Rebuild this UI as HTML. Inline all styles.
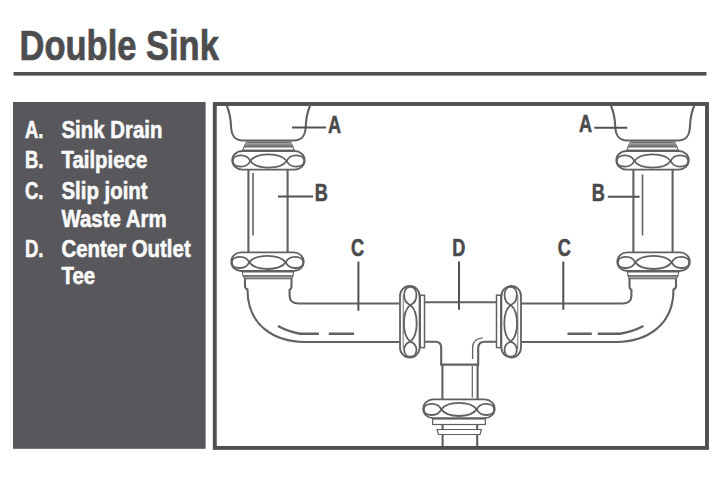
<!DOCTYPE html>
<html><head><meta charset="utf-8"><style>
html,body{margin:0;padding:0;background:#fff;}
svg{display:block;}
</style></head><body>
<svg width="720" height="478" viewBox="0 0 720 478">
<rect x="0" y="0" width="720" height="478" fill="#fff"/>
<g>
<text transform="translate(19.5,59.8) scale(0.812,1)" font-family="'Liberation Sans', sans-serif" font-weight="bold" font-size="42.5" fill="#4d4d4f" stroke="#4d4d4f" stroke-width="0.75">Double Sink</text>
<rect x="13.5" y="72" width="693" height="3.6" fill="#505052"/>
<rect x="13" y="102" width="192.6" height="346.8" fill="#58585c"/>
<g font-family="'Liberation Sans', sans-serif" font-weight="bold" fill="#fafafa" stroke="#fafafa" stroke-width="0.6">
<text transform="translate(25,137.8) scale(0.77,1)" font-size="24">A.</text>
<text transform="translate(61.5,137.8) scale(0.85,1)" font-size="24">Sink Drain</text>
<text transform="translate(25,167.8) scale(0.77,1)" font-size="24">B.</text>
<text transform="translate(61.5,167.8) scale(0.85,1)" font-size="24">Tailpiece</text>
<text transform="translate(25,199.3) scale(0.77,1)" font-size="24">C.</text>
<text transform="translate(61.5,199.3) scale(0.85,1)" font-size="24">Slip joint</text>
<text transform="translate(61.5,227.0) scale(0.85,1)" font-size="24">Waste Arm</text>
<text transform="translate(25,256.8) scale(0.77,1)" font-size="24">D.</text>
<text transform="translate(61.5,256.8) scale(0.85,1)" font-size="24">Center Outlet</text>
<text transform="translate(61.5,283.6) scale(0.85,1)" font-size="24">Tee</text>
</g>
<rect x="214.8" y="104" width="492.2" height="343.9" fill="none" stroke="#505052" stroke-width="3.9"/>
<g fill="none" stroke="#616163" stroke-width="2.1" stroke-linecap="butt">
<path d="M226.5,105 C229.5,112 230.8,119 231,126 C231.3,134 233.5,140.5 243,140.5 L293.8,140.5 C303.3,140.5 305.5,134 305.8,126 C306,119 307.3,112 310.3,105"/>
<path d="M247,141 H290 L293,146.8 H244 Z" fill="#b2b2b2" stroke-width="1"/>
<path d="M247.5,142.7 H289.5 M245.5,145.2 H291.5" stroke="#6a6a6a" stroke-width="1.2"/>
<path d="M244,147 H293 L294,150 H242.8 Z" fill="#fff" stroke-width="1.1"/>
<g stroke-width="1.8">
<rect x="232.2" y="151.0" width="72.5" height="18.6" rx="10" ry="9.3"/>
<path d="M250.25,161.00 C256.82,152.22 280.18,152.22 286.75,161.00 C280.18,169.78 256.82,169.78 250.25,161.00 Z"/>
<path d="M250.25,161.00 C246.77,152.94 232.85,154.18 232.85,161.00 C232.85,167.82 246.77,169.06 250.25,161.00 Z"/>
<path d="M286.75,161.00 C290.23,152.94 304.15,154.18 304.15,161.00 C304.15,167.82 290.23,169.06 286.75,161.00 Z"/>
</g>
<path d="M248.4,170 V252.4 M287.6,170 V252.4"/>
<g stroke-width="1.8">
<rect x="231.2" y="252.4" width="72.5" height="18.6" rx="10" ry="9.3"/>
<path d="M249.25,262.40 C255.82,253.62 279.18,253.62 285.75,262.40 C279.18,271.18 255.82,271.18 249.25,262.40 Z"/>
<path d="M249.25,262.40 C245.77,254.34 231.85,255.58 231.85,262.40 C231.85,269.22 245.77,270.46 249.25,262.40 Z"/>
<path d="M285.75,262.40 C289.23,254.34 303.15,255.58 303.15,262.40 C303.15,269.22 289.23,270.46 285.75,262.40 Z"/>
</g>
<path d="M242.3,272 H293.5 L293,275.8 H243 Z" fill="#fff" stroke-width="1.1"/>
<path d="M243,275.8 H293 L292,278.8 H244.5 Z" fill="#9a9a9a" stroke-width="1"/>
<path d="M245,278.8 V287 Q245.5,288.8 247.5,289.5 C247.5,326 275,342 305,342 H399.5"/>
<path d="M291.5,278.8 V286.5 Q291.5,289 289.6,290 V296 C289.6,300.5 293,303.5 298.5,303.5 H399.5"/>
<g stroke-width="1.8">
<rect x="400.0" y="286.0" width="19.6" height="71.5" rx="9.8" ry="10"/>
<path d="M410.30,305.00 C401.79,311.59 401.79,335.01 410.30,341.60 C418.81,335.01 418.81,311.59 410.30,305.00 Z"/>
<path d="M410.30,305.00 C401.46,301.36 402.82,286.80 410.30,286.80 C417.78,286.80 419.14,301.36 410.30,305.00 Z"/>
<path d="M410.30,341.60 C401.46,344.62 402.82,356.70 410.30,356.70 C417.78,356.70 419.14,344.62 410.30,341.60 Z"/>
<path d="M403.2,295.0 V348.5" stroke-width="0.9"/>
</g>
<rect x="420.2" y="295.2" width="4.3" height="52.4" stroke-width="1.5"/>
<g transform="translate(921.0,0) scale(-1,1)">
<path d="M226.5,105 C229.5,112 230.8,119 231,126 C231.3,134 233.5,140.5 243,140.5 L293.8,140.5 C303.3,140.5 305.5,134 305.8,126 C306,119 307.3,112 310.3,105"/>
<path d="M247,141 H290 L293,146.8 H244 Z" fill="#b2b2b2" stroke-width="1"/>
<path d="M247.5,142.7 H289.5 M245.5,145.2 H291.5" stroke="#6a6a6a" stroke-width="1.2"/>
<path d="M244,147 H293 L294,150 H242.8 Z" fill="#fff" stroke-width="1.1"/>
<g stroke-width="1.8">
<rect x="232.2" y="151.0" width="72.5" height="18.6" rx="10" ry="9.3"/>
<path d="M250.25,161.00 C256.82,152.22 280.18,152.22 286.75,161.00 C280.18,169.78 256.82,169.78 250.25,161.00 Z"/>
<path d="M250.25,161.00 C246.77,152.94 232.85,154.18 232.85,161.00 C232.85,167.82 246.77,169.06 250.25,161.00 Z"/>
<path d="M286.75,161.00 C290.23,152.94 304.15,154.18 304.15,161.00 C304.15,167.82 290.23,169.06 286.75,161.00 Z"/>
</g>
<path d="M248.4,170 V252.4 M287.6,170 V252.4"/>
<g stroke-width="1.8">
<rect x="231.2" y="252.4" width="72.5" height="18.6" rx="10" ry="9.3"/>
<path d="M249.25,262.40 C255.82,253.62 279.18,253.62 285.75,262.40 C279.18,271.18 255.82,271.18 249.25,262.40 Z"/>
<path d="M249.25,262.40 C245.77,254.34 231.85,255.58 231.85,262.40 C231.85,269.22 245.77,270.46 249.25,262.40 Z"/>
<path d="M285.75,262.40 C289.23,254.34 303.15,255.58 303.15,262.40 C303.15,269.22 289.23,270.46 285.75,262.40 Z"/>
</g>
<path d="M242.3,272 H293.5 L293,275.8 H243 Z" fill="#fff" stroke-width="1.1"/>
<path d="M243,275.8 H293 L292,278.8 H244.5 Z" fill="#9a9a9a" stroke-width="1"/>
<path d="M245,278.8 V287 Q245.5,288.8 247.5,289.5 C247.5,326 275,342 305,342 H399.5"/>
<path d="M291.5,278.8 V286.5 Q291.5,289 289.6,290 V296 C289.6,300.5 293,303.5 298.5,303.5 H399.5"/>
<g stroke-width="1.8">
<rect x="400.0" y="286.0" width="19.6" height="71.5" rx="9.8" ry="10"/>
<path d="M410.30,305.00 C401.79,311.59 401.79,335.01 410.30,341.60 C418.81,335.01 418.81,311.59 410.30,305.00 Z"/>
<path d="M410.30,305.00 C401.46,301.36 402.82,286.80 410.30,286.80 C417.78,286.80 419.14,301.36 410.30,305.00 Z"/>
<path d="M410.30,341.60 C401.46,344.62 402.82,356.70 410.30,356.70 C417.78,356.70 419.14,344.62 410.30,341.60 Z"/>
<path d="M403.2,295.0 V348.5" stroke-width="0.9"/>
</g>
<rect x="420.2" y="295.2" width="4.3" height="52.4" stroke-width="1.5"/>
</g>
<path d="M424.3,302.2 H496.2"/>
<path d="M424.3,341.8 H435.5 Q441.2,341.8 441.2,348 V364.6 H478.2 V348 Q478.2,341.8 485,341.8 H496.2"/>
<path d="M442.4,364.6 V399.4 M477.6,364.6 V399.4"/>
<path d="M472.3,366 V397.5" stroke-width="1.2"/>
<path d="M472.6,359 V348 Q472.6,338.5 482.7,337.8" stroke-width="1.3"/>
<g stroke-width="1.8">
<rect x="423.2" y="399.4" width="71.5" height="18.8" rx="10" ry="9.4"/>
<path d="M441.25,409.40 C447.64,400.62 470.36,400.62 476.75,409.40 C470.36,418.18 447.64,418.18 441.25,409.40 Z"/>
<path d="M441.25,409.40 C437.77,401.34 423.85,402.58 423.85,409.40 C423.85,416.22 437.77,417.46 441.25,409.40 Z"/>
<path d="M476.75,409.40 C480.23,401.34 494.15,402.58 494.15,409.40 C494.15,416.22 480.23,417.46 476.75,409.40 Z"/>
</g>
<rect x="432.6" y="419" width="52.7" height="5.5" stroke-width="1.2"/>
<path d="M442.6,424.5 V446 M477.2,424.5 V446"/>
<path d="M437,429.5 H481.5 L480,434.5 H438.5 Z" fill="#fff" stroke-width="1.2"/>
<path d="M253,173 V235.5" stroke-width="1.6"/>
<path d="M642.5,174.5 V235.5" stroke-width="1.6"/>
<path d="M278,326 Q288,331.5 300,333.8 H318.8 M328.8,333.8 H354" stroke-width="2.5"/>
<path d="M643.4,326 Q633,331.5 620,333.8 H597.7 M591.8,333.8 H567.5" stroke-width="2.5"/>
<path d="M292,127.6 H326 M594.3,127.7 H627.3" stroke-width="2.0" stroke="#525254"/>
<path d="M278,196.4 H313 M607.8,196.8 H639.6" stroke-width="2.0" stroke="#525254"/>
<path d="M358.4,261.5 V310.7 M459,261.5 V309.8 M563.3,261.5 V309.8" stroke-width="2.0" stroke="#525254"/>
</g>
<g font-family="'Liberation Sans', sans-serif" font-weight="bold" fill="#4a4a4c" stroke="#4a4a4c" stroke-width="0.6">
<text transform="translate(328.0,133.0) scale(0.74,1)" font-size="24.5">A</text>
<text transform="translate(579.0,131.5) scale(0.74,1)" font-size="24.5">A</text>
<text transform="translate(314.8,201.0) scale(0.74,1)" font-size="24.5">B</text>
<text transform="translate(591.7,201.0) scale(0.74,1)" font-size="24.5">B</text>
<text transform="translate(351.0,255.8) scale(0.74,1)" font-size="24.5">C</text>
<text transform="translate(452.3,255.8) scale(0.74,1)" font-size="24.5">D</text>
<text transform="translate(557.7,255.8) scale(0.74,1)" font-size="24.5">C</text>
</g>
</g>
</svg>
</body></html>
